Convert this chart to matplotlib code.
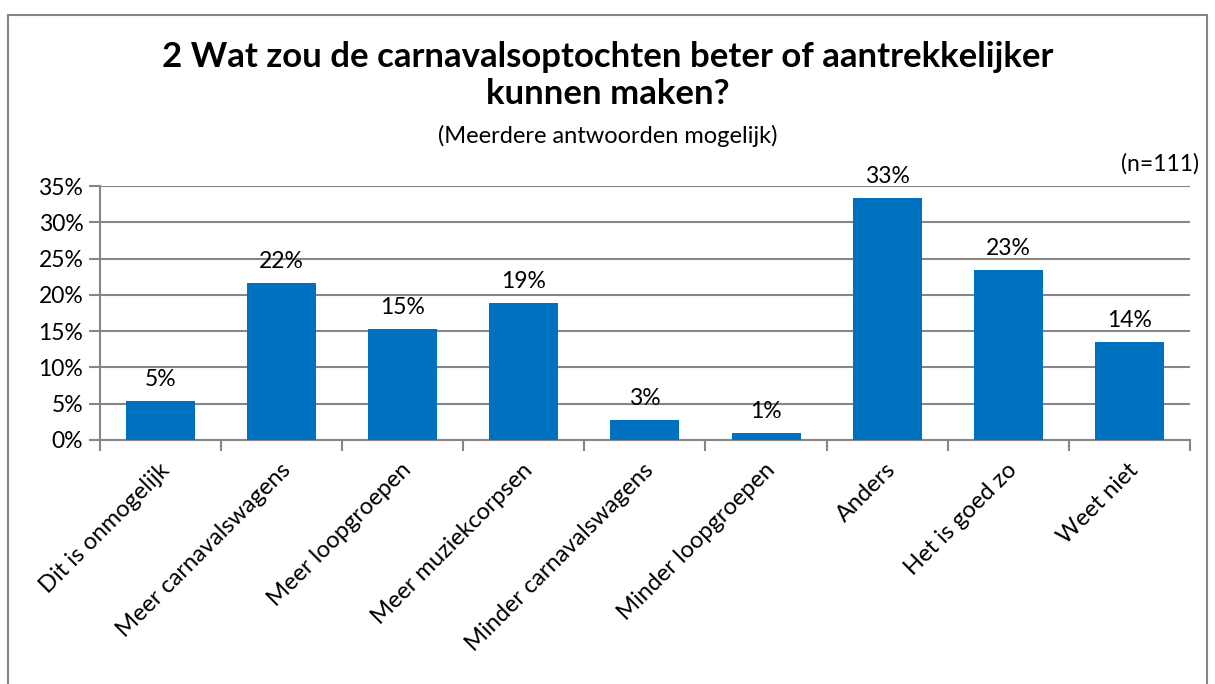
import matplotlib.pyplot as plt
import matplotlib.transforms as mtransforms
from matplotlib.patches import Rectangle
from matplotlib.ticker import FuncFormatter

plt.rcParams["font.family"] = ["Lato", "DejaVu Sans"]

# Data
categories = [
    "Dit is onmogelijk",
    "Meer carnavalswagens",
    "Meer loopgroepen",
    "Meer muziekcorpsen",
    "Minder carnavalswagens",
    "Minder loopgroepen",
    "Anders",
    "Het is goed zo",
    "Weet niet",
]
values = [5.4, 21.6, 15.3, 18.9, 2.7, 0.9, 33.3, 23.4, 13.5]
bar_color = "#0070C0"
grid_color = "#868686"

fig = plt.figure(figsize=(12.15, 6.84), dpi=100)
ax = fig.add_axes([0.0823, 0.357, 0.897, 0.371])

# outer chart frame
fig.patches.append(Rectangle((8 / 1215, -0.05), 1199 / 1215, 1.04 - 8 / 684,
                             transform=fig.transFigure, fill=False,
                             edgecolor=grid_color, linewidth=1.5))

x = range(len(categories))
ax.bar(x, values, width=0.57, color=bar_color, zorder=3)
for xi, v in zip(x, values):
    ax.text(xi, v + 1.5, f"{v:.0f}%", ha="center", va="bottom", fontsize=16.5)

ax.set_xlim(-0.5, len(categories) - 0.5)
ax.set_ylim(0, 35)
ax.set_yticks(range(0, 36, 5))
ax.yaxis.set_major_formatter(FuncFormatter(lambda v, p: f"{v:.0f}%"))
ax.yaxis.grid(True, color=grid_color, linewidth=1.5, zorder=0)
ax.tick_params(axis="y", length=8, width=1.5, color=grid_color, labelsize=16.5, pad=4)

ax.set_xticks([i - 0.5 for i in range(len(categories) + 1)], minor=False)
ax.set_xticklabels([])
ax.tick_params(axis="x", length=8, width=1.5, color=grid_color)
ax.set_xticks(list(x), minor=True)
ax.set_xticklabels(categories, minor=True, rotation=45, ha="right",
                   rotation_mode="anchor", fontsize=17)
ax.tick_params(axis="x", which="minor", length=0, pad=14)
shift = mtransforms.ScaledTranslation(-2 / 100, 0, fig.dpi_scale_trans)
for lbl in ax.get_xticklabels(minor=True):
    lbl.set_transform(lbl.get_transform() + shift)

for side in ["top", "right"]:
    ax.spines[side].set_visible(False)
for side in ["left", "bottom"]:
    ax.spines[side].set_color(grid_color)
    ax.spines[side].set_linewidth(1.5)

fig.text(0.5, 0.940, "2 Wat zou de carnavalsoptochten beter of aantrekkelijker\nkunnen maken?",
         ha="center", va="top", fontsize=25, fontweight="bold", linespacing=1.2)
fig.text(0.5, 0.785, "(Meerdere antwoorden mogelijk)", ha="center", va="bottom", fontsize=17)
fig.text(0.987, 0.745, "(n=111)", ha="right", va="bottom", fontsize=16.5)

fig.savefig("out.png", dpi=100)
